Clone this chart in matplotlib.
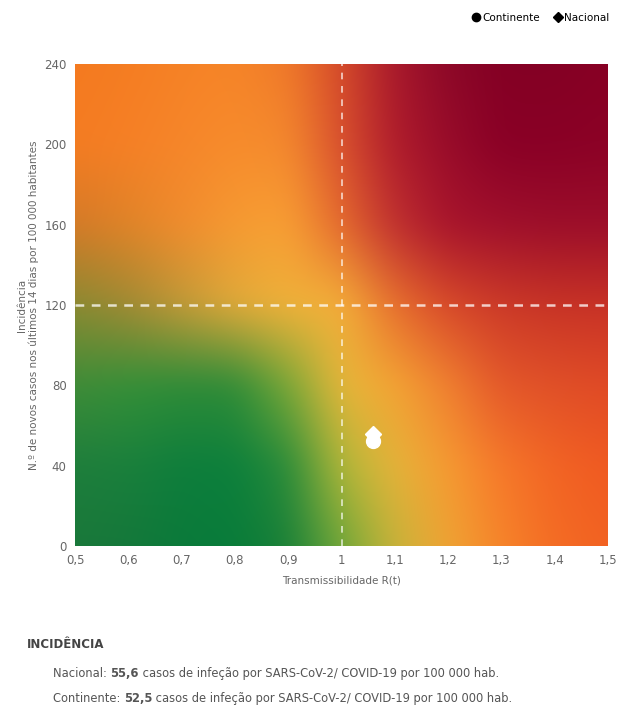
import numpy as np
import matplotlib
matplotlib.use("Agg")
from matplotlib import pyplot as plt
from matplotlib.colors import to_rgb
from matplotlib.lines import Line2D

plt.rcParams['font.family'] = ['Liberation Sans Narrow', 'DejaVu Sans']

# points
series = ["Continente", "Nacional"]
rt = [1.06, 1.06]
incid = [52.5, 55.6]
markers = ["o", "D"]

xticks = [0.5, 0.6, 0.7, 0.8, 0.9, 1.0, 1.1, 1.2, 1.3, 1.4, 1.5]
xticklabels = ["0,5", "0,6", "0,7", "0,8", "0,9", "1", "1,1", "1,2", "1,3", "1,4", "1,5"]
yticks = [0, 40, 80, 120, 160, 200, 240]
rt_limit = 1.0
incid_limit = 120

# background colour field, rows from y=240 down to y=0, cols x=0.5..1.5
bg_x = np.linspace(0.5, 1.5, 11)
bg_y = np.array([240, 200, 160, 120, 80, 40, 0])
bg_cols = [
    ["#f47a20", "#f57d22", "#f68226", "#f68528", "#f07a2a", "#d54a2a", "#a8182c", "#8c0828", "#840024", "#840024", "#880024"],
    ["#f47c22", "#f68026", "#f6862a", "#f78c2c", "#f48a2e", "#d9502e", "#b01c2c", "#980c2a", "#8a0026", "#8a0026", "#8c0226"],
    ["#d47a28", "#e08428", "#f08c2e", "#f69a32", "#f8a034", "#e56a2e", "#c03030", "#a8142c", "#a0102c", "#9c0e2a", "#9c0e2a"],
    ["#8a8a32", "#a08a34", "#c09a38", "#e0aa3a", "#f0b23a", "#f4b03a", "#e8702e", "#d84a2a", "#cc3a28", "#c83426", "#c83226"],
    ["#3e8c38", "#349038", "#2e8c38", "#2e8c38", "#78a838", "#e8b83a", "#f4a434", "#f08030", "#e4582a", "#e05028", "#e04a26"],
    ["#1e7e3c", "#1a803c", "#0e7e3c", "#0c803c", "#2a8c3a", "#b0b83a", "#e6b43a", "#f69a32", "#f6782a", "#f26424", "#f05a22"],
    ["#1a783a", "#14783a", "#0a7a3a", "#087c3a", "#1a8038", "#70a83a", "#c8b43a", "#f0a434", "#f6842a", "#f46c24", "#f26222"],
]

ctrl = np.array([[to_rgb(c) for c in row] for row in bg_cols])
n = 300
fx = np.linspace(0.5, 1.5, n)
fy = np.linspace(240, 0, n)
tmp = np.zeros((len(bg_y), n, 3))
for i in range(len(bg_y)):
    for k in range(3):
        tmp[i, :, k] = np.interp(fx, bg_x, ctrl[i, :, k])
img = np.zeros((n, n, 3))
for j in range(n):
    for k in range(3):
        img[:, j, k] = np.interp(fy, bg_y[::-1], tmp[::-1, j, k])

# soften the kinks of the linear blend
sig = 9
kx = np.arange(-3 * sig, 3 * sig + 1)
kern = np.exp(-kx ** 2 / (2 * sig ** 2))
kern /= kern.sum()
pad = 3 * sig
for k in range(3):
    ch = np.pad(img[:, :, k], pad, mode="edge")
    ch = np.apply_along_axis(lambda r: np.convolve(r, kern, mode="same"), 1, ch)
    ch = np.apply_along_axis(lambda r: np.convolve(r, kern, mode="same"), 0, ch)
    img[:, :, k] = ch[pad:-pad, pad:-pad]

fig = plt.figure(figsize=(6.22, 7.13), dpi=100)
ax = fig.add_axes([0.1206, 0.2342, 0.8569, 0.676])
ax.imshow(np.clip(img, 0, 1), extent=[0.5, 1.5, 0, 240], aspect="auto", interpolation="bilinear", zorder=0)
ax.axvline(rt_limit, color="white", linestyle=(0, (4, 4)), lw=1.2, alpha=0.75)
ax.axhline(incid_limit, color="white", linestyle=(0, (3.5, 3)), lw=1.8, alpha=0.75)
for s, x, y, m in zip(series, rt, incid, markers):
    ax.plot(x, y, marker=m, color="white", markersize=10 if m == "o" else 8, ls="none", zorder=5)

ax.set_xlim(0.5, 1.5)
ax.set_ylim(0, 240)
ax.set_xticks(xticks)
ax.set_xticklabels(xticklabels)
ax.set_yticks(yticks)
ax.tick_params(length=0, labelsize=8.5, colors="#666666", pad=6)
for sp in ax.spines.values():
    sp.set_visible(False)
ax.set_xlabel("Transmissibilidade R(t)", fontsize=7.5, color="#666666", labelpad=6)
ax.set_ylabel("Incidência\nN.º de novos casos nos últimos 14 dias por 100 000 habitantes",
              fontsize=7.5, color="#666666", labelpad=4)

handles = [Line2D([], [], marker=m, color="black", ls="none", markersize=6 if m == "o" else 5)
           for m in markers]
fig.legend(handles, series, loc="upper right", bbox_to_anchor=(0.995, 0.995), ncol=2, frameon=False,
           fontsize=7.5, handletextpad=0.1, columnspacing=1.2, handlelength=1)

fig.text(0.043, 0.091, "INCIDÊNCIA", fontsize=8.5, fontweight="bold", color="#444444")

parts_n = [("Nacional: ", False), ("55,6", True),
           (" casos de infeção por SARS-CoV-2/ COVID-19 por 100 000 hab.", False)]
parts_c = [("Continente: ", False), ("52,5", True),
           (" casos de infeção por SARS-CoV-2/ COVID-19 por 100 000 hab.", False)]


def line_of(x, y, parts):
    prev = None
    for txt, bold in parts:
        kw = dict(fontsize=8.3, color="#555555", fontweight="bold" if bold else "normal")
        if prev is None:
            prev = fig.text(x, y, txt, va="baseline", **kw)
        else:
            prev = ax.annotate(txt, xy=(1, 0), xycoords=prev, va="bottom", ha="left",
                               annotation_clip=False, **kw)


line_of(0.085, 0.050, parts_n)
line_of(0.085, 0.015, parts_c)

fig.savefig("out.png")
